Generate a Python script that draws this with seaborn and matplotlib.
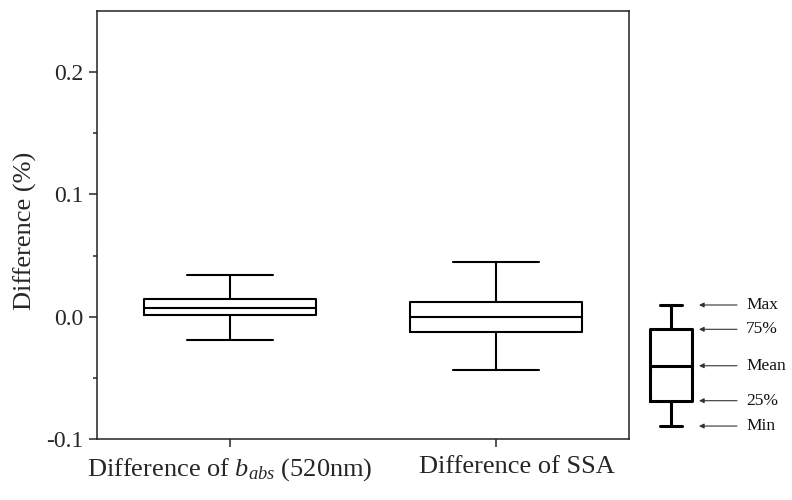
import numpy as np
import pandas as pd
import matplotlib
matplotlib.use("Agg")
import matplotlib.pyplot as plt
from matplotlib.ticker import FixedLocator, FormatStrFormatter
from matplotlib.transforms import blended_transform_factory, ScaledTranslation
import seaborn as sns

# Box statistics per quantity: min, 25%, mean, 75%, max
categories = [r"Difference of $b_{abs}$ (520nm)", "Difference of SSA"]
babs_stats = [-0.0188, 0.0010, 0.0068, 0.0144, 0.0340]
ssa_stats = [-0.0433, -0.0126, -0.0004, 0.0117, 0.0446]

# Schematic key box and its labels
key_labels = ["Min", "25%", "Mean", "75%", "Max"]
key_stats = [0.093, 0.262, 0.495, 0.738, 0.900]

y_ticks = [-0.1, 0.0, 0.1, 0.2]
y_minor_ticks = [-0.05, 0.05, 0.15]

sns.set_style("ticks")
plt.rcParams["font.family"] = ["Liberation Serif", "DejaVu Serif"]
plt.rcParams["mathtext.fontset"] = "custom"
plt.rcParams["mathtext.rm"] = "Liberation Serif"
plt.rcParams["mathtext.it"] = "Liberation Serif:italic"
plt.rcParams["axes.unicode_minus"] = False

df = pd.DataFrame({
    "quantity": [categories[0]] * len(babs_stats) + [categories[1]] * len(ssa_stats),
    "value": babs_stats + ssa_stats,
})

W, H = 792, 500
fig = plt.figure(figsize=(W / 100, H / 100), dpi=100)

def px_axes(x0, y0, x1, y1):
    return fig.add_axes([x0 / W, 1 - y1 / H, (x1 - x0) / W, (y1 - y0) / H])

ax = px_axes(97, 11, 629, 439)
sns.boxplot(data=df, x="quantity", y="value", ax=ax, whis=(0, 100),
            width=0.645, fill=False, color="black", linecolor="black",
            linewidth=1.5, showfliers=False)

ax.set_xlim(-0.5, 1.5)
ax.set_ylim(-0.1, 0.25)
ax.set_yticks(y_ticks)
ax.yaxis.set_minor_locator(FixedLocator(y_minor_ticks))
ax.yaxis.set_major_formatter(FormatStrFormatter("%.1f"))
ax.set_xlabel("")
ax.set_ylabel("Difference (%)", fontsize=19)
ax.yaxis.set_label_coords(-0.113, 0.486)
for s in ax.spines.values():
    s.set_visible(True)
    s.set_linewidth(1.1)
    s.set_color("#222222")
ax.tick_params(axis="y", which="major", length=6, width=1.1, labelsize=17, pad=4, right=False)
ax.tick_params(axis="y", which="minor", length=3.2, width=1.1, right=False)
ax.tick_params(axis="x", which="major", length=5.5, width=1.1, labelsize=19, pad=7, top=False)

# second category label sits a little right of its tick
xt = ax.get_xticklabels()
xt[1].set_transform(xt[1].get_transform() + ScaledTranslation(21 / 100, 0, fig.dpi_scale_trans))

# Key box drawn beside the main axes
kax = px_axes(640, 290, 702, 440)
sns.boxplot(y=key_stats, ax=kax, whis=(0, 100), width=0.68, fill=False,
            color="black", linecolor="black", linewidth=2.2, showfliers=False)
kax.set_ylim(0, 1)
kax.set_xlim(-0.5, 0.5)
kax.axis("off")

trans = blended_transform_factory(fig.transFigure, kax.transData)
for lab, v in zip(key_labels, key_stats):
    kax.annotate("", xy=(699 / W, v), xycoords=trans,
                 xytext=(737 / W, v), textcoords=trans,
                 arrowprops=dict(arrowstyle="-|>", lw=0.8, color="#333333",
                                 mutation_scale=7, shrinkA=0, shrinkB=0))
    kax.text(746 / W, v, lab, transform=trans, ha="left", va="center",
             fontsize=12.5, color="#111111")

fig.savefig("out.png", dpi=100)
